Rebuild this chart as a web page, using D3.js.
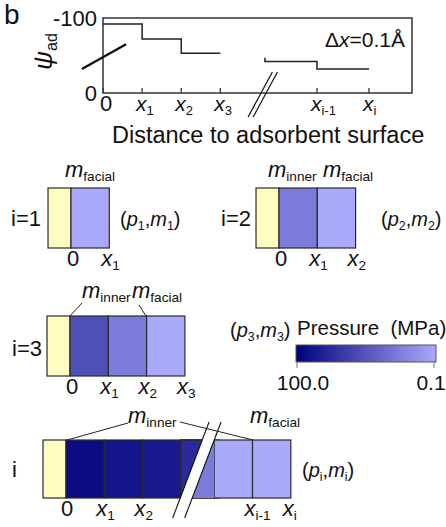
<!DOCTYPE html>
<html>
<head>
<meta charset="utf-8">
<script src="https://cdn.jsdelivr.net/npm/d3@7"></script>
<style>
  body { margin: 0; background: #fff; }
  svg { display: block; }
  text { font-family: "Liberation Sans", Arial, sans-serif; fill: #111; }
</style>
</head>
<body>
<svg id="fig" width="446" height="527"></svg>
<script>
// ---- data ----
// psi_ad step profile (schematic units along the axis, one unit = one slice)
var headSteps = [[0, -92], [1, -72], [2, -53], [3, -53]];
var tailSteps = [[4.14, -47], [4.14, -42], [5.47, -32], [6.8, -32]];
var topTickPos = [0, 1, 2, 3, 5.47, 6.8];
var topTickLabels = [["0", ""], ["x", "1"], ["x", "2"], ["x", "3"], ["x", "i-1"], ["x", "i"]];
var yTicks = [-100, 0];

// pressure (MPa) of each slice, inner -> facial
var press1 = [0.1];
var press2 = [0.65, 0.1];
var press3 = [3.9, 0.65, 0.1];
var pressI = [63, 44, 34, 18];        // before the break
var pressIcut = 0.65;                  // slice seen through the break
var pressItail = [0.1, 0.1];           // x_{i-2}..x_i
var colorTicks = [100, 0.1];
var colorTickLabels = ["100.0", "0.1"];

var svg = d3.select("#fig");

// write text with italic / subscript parts
function rich(g, x, y, parts, anchor, size) {
  size = size || 22;
  var t = g.append("text").attr("x", x).attr("y", y)
    .attr("font-size", size).attr("text-anchor", anchor || "start");
  var down = false;
  parts.forEach(function(p) {
    var s = t.append("tspan").text(p[0]);
    if (p[1] == "i") s.attr("font-style", "italic");
    if (p[1] == "sub") {
      s.attr("font-size", size * 0.62);
      if (!down) { s.attr("dy", size * 0.2); down = true; }
    } else if (down) {
      s.attr("dy", -size * 0.2); down = false;
    }
  });
  return t;
}

svg.append("text").attr("x", 4).attr("y", 24).attr("font-size", 28).text("b");

// ---- top step chart ----
var x = d3.scaleLinear().domain([0, 7.9]).range([103, 412]);
var y = d3.scaleLinear().domain([0, -100]).range([93, 18]);

svg.append("rect")
  .attr("x", x(0)).attr("y", y(-100))
  .attr("width", x(7.9) - x(0)).attr("height", y(0) - y(-100))
  .attr("fill", "none").attr("stroke", "#333").attr("stroke-width", 1.5);

svg.selectAll(".ttick").data(topTickPos).enter().append("line")
  .attr("x1", function(d) { return x(d); }).attr("x2", function(d) { return x(d); })
  .attr("y1", y(0)).attr("y2", y(0) - 5)
  .attr("stroke", "#333").attr("stroke-width", 1.3);

topTickPos.forEach(function(d, i) {
  var l = topTickLabels[i];
  if (l[1] == "") rich(svg, x(d) + 3, 111, [[l[0], ""]], "middle");
  else rich(svg, x(d) - 6, 111, [[l[0], "i"], [l[1], "sub"]], "start", 21);
});

yTicks.forEach(function(d) {
  svg.append("text").attr("x", 97).attr("y", y(d) + 8)
    .attr("font-size", 22).attr("text-anchor", "end").text(d == 0 ? "0" : "-100");
});

var step = d3.line().x(function(d) { return x(d[0]); }).y(function(d) { return y(d[1]); })
  .curve(d3.curveStepAfter);
svg.append("path").attr("d", step(headSteps))
  .attr("fill", "none").attr("stroke", "#222").attr("stroke-width", 1.5);
svg.append("path").attr("d", step(tailSteps))
  .attr("fill", "none").attr("stroke", "#222").attr("stroke-width", 1.5);

// slanted marker crossing the y axis
svg.append("line")
  .attr("x1", x(-0.54)).attr("y1", y(-32)).attr("x2", x(0.59)).attr("y2", y(-65))
  .attr("stroke", "#111").attr("stroke-width", 2.4);

// axis break slashes
[0, 0.13].forEach(function(o) {
  svg.append("line")
    .attr("x1", x(3.71 + o)).attr("y1", y(32)).attr("x2", x(4.33 + o)).attr("y2", y(-28))
    .attr("stroke", "#111").attr("stroke-width", 1.2);
});

rich(svg, 325, 47, [["\u0394", ""], ["x", "i"], ["=0.1\u00c5", ""]], "start", 21);

// psi_ad label
var yl = svg.append("g").attr("transform", "translate(52,70) rotate(-90)");
rich(yl, 0, 0, [["\u03c8", "i"], ["ad", "sub"]], "start", 26);

svg.append("text").attr("x", 112).attr("y", 143).attr("font-size", 23.5)
  .text("Distance to adsorbent surface");

// ---- slice panels ----
var color = d3.scaleLog().domain([100, 0.1]).range(["#00007c", "#a9a9fb"])
  .interpolate(d3.interpolateRgb);
var cw = d3.scaleLinear().domain([0, 1]).range([0, 38.3]);
var yellow = "#fefcc0";
var edge = "#2a2a2a";

function panel(ox, top, h, press) {
  var g = svg.append("g").attr("transform", "translate(" + ox + "," + top + ")");
  g.append("rect").attr("x", cw(-0.6)).attr("y", 0)
    .attr("width", cw(0.6)).attr("height", h)
    .attr("fill", yellow).attr("stroke", edge).attr("stroke-width", 1.2);
  g.selectAll(".cell").data(press).enter().append("rect")
    .attr("x", function(d, i) { return cw(i); }).attr("y", 0)
    .attr("width", cw(1)).attr("height", h)
    .attr("fill", function(d) { return color(d); })
    .attr("stroke", edge).attr("stroke-width", 1.2);
  return g;
}

function boundaryLabels(ox, base, names) {
  names.forEach(function(n, i) {
    if (n == "0") rich(svg, ox + cw(i) + 2, base, [["0", ""]], "middle");
    else rich(svg, ox + cw(i) - 8, base, [["x", "i"], [n, "sub"]], "start");
  });
}

function pm(xp, yp, k) {
  rich(svg, xp, yp, [["(", ""], ["p", "i"], [k, "sub"], [",", ""], ["m", "i"], [k, "sub"], [")", ""]], "start", 20);
}

// i = 1
panel(71, 188, 60, press1);
svg.append("text").attr("x", 41).attr("y", 226).attr("font-size", 22).attr("text-anchor", "end").text("i=1");
rich(svg, 65, 177, [["m", "i"], ["facial", "sub"]]);
boundaryLabels(71, 266, ["0", "1"]);
pm(120, 226, "1");

// i = 2
panel(279, 188, 60, press2);
svg.append("text").attr("x", 251).attr("y", 226).attr("font-size", 22).attr("text-anchor", "end").text("i=2");
rich(svg, 268, 177, [["m", "i"], ["inner", "sub"]]);
rich(svg, 323, 177, [["m", "i"], ["facial", "sub"]]);
boundaryLabels(279, 266, ["0", "1", "2"]);
pm(381, 226, "2");

// i = 3
panel(70, 316, 60, press3);
svg.append("text").attr("x", 42).attr("y", 356).attr("font-size", 22).attr("text-anchor", "end").text("i=3");
rich(svg, 82, 298, [["m", "i"], ["inner", "sub"]]);
rich(svg, 132, 298, [["m", "i"], ["facial", "sub"]]);
svg.append("line").attr("x1", 82).attr("y1", 303).attr("x2", 70).attr("y2", 316).attr("stroke", "#222");
svg.append("line").attr("x1", 139).attr("y1", 305).attr("x2", 146).attr("y2", 316).attr("stroke", "#222");
boundaryLabels(70, 394, ["0", "1", "2", "3"]);
pm(230, 337, "3");

// i (long column with a break)
var oxI = 66, topI = 440, hI = 58;
var gI = panel(oxI, topI, hI, pressI);
var gap = 3.87;   // where the slices after the break start
gI.append("rect").attr("x", cw(3)).attr("y", 0).attr("width", cw(gap - 3)).attr("height", hI)
  .attr("fill", color(pressI[3])).attr("stroke", edge).attr("stroke-width", 1.2);
gI.selectAll(".tail").data(pressItail).enter().append("rect")
  .attr("x", function(d, i) { return cw(gap + i); }).attr("y", 0)
  .attr("width", cw(1)).attr("height", hI)
  .attr("fill", function(d) { return color(d); })
  .attr("stroke", edge).attr("stroke-width", 1.2);

// band slope and width of the break
var slope = -0.379, bw = 12;
var bx = cw(gap) - bw;          // left band edge at the top of the box
function lx(yy, off) { return bx + off + (yy) * slope; }
gI.append("path")
  .attr("d", "M" + cw(gap) + ",0L" + cw(gap) + "," + hI + "L" + lx(hI, bw) + "," + hI + "Z")
  .attr("fill", color(pressIcut));
gI.append("path")
  .attr("d", "M" + lx(-18, 0) + ",-18L" + lx(-18, bw) + ",-18L" + lx(hI + 20, bw) + "," + (hI + 20) +
    "L" + lx(hI + 20, 0) + "," + (hI + 20) + "Z")
  .attr("fill", "#fff");
gI.append("line").attr("x1", cw(3)).attr("x2", lx(0, 0)).attr("y1", 0).attr("y2", 0).attr("stroke", edge).attr("stroke-width", 1.2);
gI.append("line").attr("x1", cw(3)).attr("x2", lx(hI, 0)).attr("y1", hI).attr("y2", hI).attr("stroke", edge).attr("stroke-width", 1.2);
[0, bw].forEach(function(o) {
  gI.append("line")
    .attr("x1", lx(-18, o)).attr("y1", -18).attr("x2", lx(hI + 20, o)).attr("y2", hI + 20)
    .attr("stroke", "#111").attr("stroke-width", 1.1);
});

svg.append("text").attr("x", 12).attr("y", 477).attr("font-size", 22).text("i");
rich(svg, 128, 423, [["m", "i"], ["inner", "sub"]]);
rich(svg, 250, 423, [["m", "i"], ["facial", "sub"]]);
svg.append("line").attr("x1", 128).attr("y1", 423).attr("x2", 67).attr("y2", 440).attr("stroke", "#222");
svg.append("line").attr("x1", 180).attr("y1", 422).attr("x2", 253).attr("y2", 440).attr("stroke", "#222");
[["0", 0], ["1", 1], ["2", 2], ["i-1", gap + 1], ["i", gap + 2]].forEach(function(d) {
  if (d[0] == "0") rich(svg, oxI + cw(d[1]) + 1, 516, [["0", ""]], "middle");
  else rich(svg, oxI + cw(d[1]) - 8, 516, [["x", "i"], [d[0], "sub"]], "start");
});
rich(svg, 302, 477, [["(", ""], ["p", "i"], ["i", "sub"], [",", ""], ["m", "i"], ["i", "sub"], [")", ""]], "start", 20);

// ---- colour bar ----
var cx = d3.scaleLog().domain([100, 0.1]).range([297, 434]);
var grad = svg.append("defs").append("linearGradient").attr("id", "pg")
  .attr("x1", "0%").attr("x2", "100%");
d3.range(0, 1.001, 0.1).forEach(function(t) {
  var p = cx.invert(297 + t * (434 - 297));
  grad.append("stop").attr("offset", (t * 100) + "%").attr("stop-color", color(p));
});
svg.append("rect").attr("x", 296).attr("y", 345).attr("width", 140).attr("height", 17)
  .attr("fill", "url(#pg)").attr("stroke", "#555").attr("stroke-width", 1);
svg.selectAll(".ctick").data(colorTicks).enter().append("line")
  .attr("x1", function(d) { return cx(d); }).attr("x2", function(d) { return cx(d); })
  .attr("y1", 362).attr("y2", 368).attr("stroke", "#777");
svg.selectAll(".clab").data(colorTicks).enter().append("text")
  .attr("x", function(d, i) { return cx(d) + (i == 0 ? 6 : -3); }).attr("y", 390)
  .attr("font-size", 21).attr("text-anchor", "middle")
  .text(function(d, i) { return colorTickLabels[i]; });
svg.append("text").attr("x", 297).attr("y", 335).attr("font-size", 20.5)
  .style("white-space", "pre").text("Pressure  (MPa)");
</script>
</body>
</html>
